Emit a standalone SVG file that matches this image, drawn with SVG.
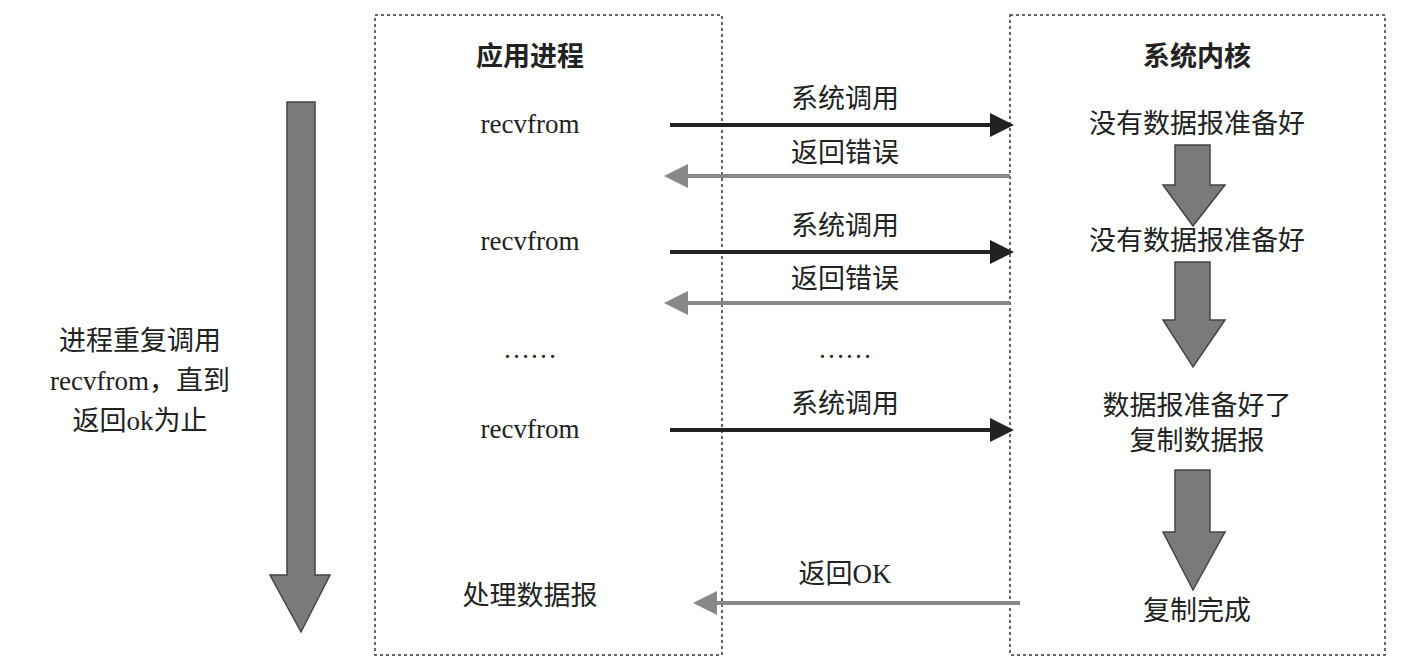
<svg xmlns="http://www.w3.org/2000/svg" width="1414" height="670" viewBox="0 0 1414 670">
<style>
text{font-family:"Liberation Serif","Noto Sans CJK SC",serif;font-size:27px;fill:#222}
.c{text-anchor:middle}
.b{font-weight:bold}
.box{fill:none;stroke:#333;stroke-width:1.5;stroke-dasharray:3 3}
.blk{stroke:#222;stroke-width:4;fill:none}
.gry{stroke:#888;stroke-width:4;fill:none}
.big{fill:#7a7a7a;stroke:#444;stroke-width:1.5}
</style>
<defs>
<marker id="ab" markerWidth="6" markerHeight="6" refX="5" refY="3" orient="auto" markerUnits="strokeWidth"><path d="M0,0L6,3L0,6z" fill="#222"/></marker>
<marker id="ag" markerWidth="6" markerHeight="6" refX="5" refY="3" orient="auto" markerUnits="strokeWidth"><path d="M0,0L6,3L0,6z" fill="#888"/></marker>
</defs>
<rect width="1414" height="670" fill="#fff"/>
<g id="app"><rect class="box" x="375" y="15" width="347" height="640"/><text class="c b" x="530" y="66">应用进程</text></g>
<g id="kernel"><rect class="box" x="1010" y="15" width="375" height="640"/><text class="c b" x="1197" y="66">系统内核</text></g>
<g id="progress"><path class="big" d="M287,102H315V575H330L301,632L270,575H287Z"/><text class="c" x="140" y="350">进程重复调用</text><text class="c" x="140" y="390">recvfrom，直到</text><text class="c" x="140" y="430">返回ok为止</text></g>
<g id="app-labels"><text class="c" x="530" y="133">recvfrom</text><text class="c" x="530" y="250">recvfrom</text><text class="c" x="530" y="358">……</text><text class="c" x="530" y="438">recvfrom</text><text class="c" x="530" y="605">处理数据报</text></g>
<g id="k1"><text class="c" x="1197" y="133">没有数据报准备好</text></g>
<g id="k2"><text class="c" x="1197" y="250">没有数据报准备好</text></g>
<g id="k3"><text class="c" x="1197" y="415">数据报准备好了</text><text class="c" x="1197" y="450">复制数据报</text></g>
<g id="k4"><text class="c" x="1197" y="620">复制完成</text></g>
<g id="connectors">
<path class="big" d="M1175,145H1210V185H1225L1193,226L1163,185H1175Z"/>
<path class="big" d="M1175,262H1210V320H1225L1193,367L1163,320H1175Z"/>
<path class="big" d="M1175,470H1210V532H1225L1193,590L1163,532H1175Z"/>
<line class="blk" x1="670" y1="125" x2="1010" y2="125" marker-end="url(#ab)"/>
<line class="gry" x1="1010" y1="176" x2="668" y2="176" marker-end="url(#ag)"/>
<line class="blk" x1="670" y1="252" x2="1010" y2="252" marker-end="url(#ab)"/>
<line class="gry" x1="1010" y1="303" x2="668" y2="303" marker-end="url(#ag)"/>
<line class="blk" x1="670" y1="430" x2="1010" y2="430" marker-end="url(#ab)"/>
<line class="gry" x1="1020" y1="603" x2="697" y2="603" marker-end="url(#ag)"/>
<text class="c" x="845" y="108">系统调用</text><text class="c" x="845" y="162">返回错误</text>
<text class="c" x="845" y="235">系统调用</text><text class="c" x="845" y="288">返回错误</text>
<text class="c" x="845" y="358">……</text>
<text class="c" x="845" y="413">系统调用</text><text class="c" x="845" y="583">返回OK</text>
</g>
</svg>
